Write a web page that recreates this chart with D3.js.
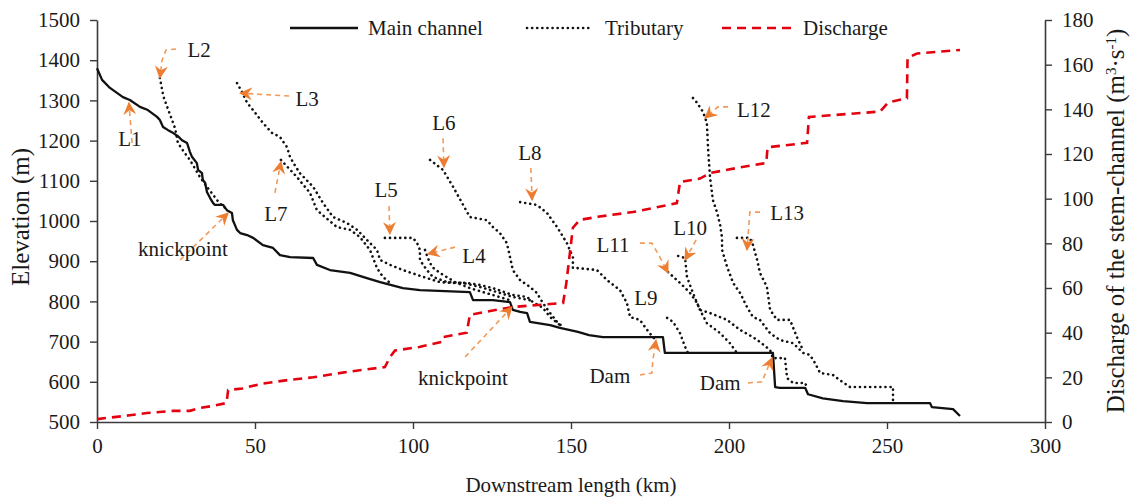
<!DOCTYPE html>
<html>
<head>
<meta charset="utf-8">
<script src="https://cdn.jsdelivr.net/npm/d3@7"></script>
<style>
  html, body { margin: 0; padding: 0; background: #fff; }
  svg { display: block; }
  text { font-family: "Liberation Serif", "Times New Roman", "DejaVu Serif", serif; fill: #1a1a1a; }
</style>
</head>
<body>
<svg id="chart" width="1131" height="498"></svg>
<script>
// ---- Data: longitudinal profile (km, elevation m) ----
const mainChannel = [
  [0,1380],[1.6,1351],[4.1,1331],[8.2,1308],[10.4,1301],[13.6,1284],[16.1,1276],[19,1259],
  [19.9,1251],[20.9,1234],[22.5,1226],[23.7,1221],[25.6,1211],[26.9,1201],[28.5,1194],[29.4,1172],
  [30.1,1159],[31.6,1144],[32,1127],[33.2,1119],[33.5,1102],[34.2,1095],[34.8,1072],[35.8,1057],
  [36.7,1045],[37.3,1040],[39.9,1040],[41.1,1027],[42.7,1020],[43,1002],[44.3,978],[45.3,970],
  [47.5,965],[49.4,958],[52.5,940],[55.7,933],[57.9,915],[61.1,910],[68.4,908],[69.6,891],
  [73.7,878],[80.1,871],[85.4,858],[89.6,848],[96.8,833],[102.2,828],[118,823],[119,803],
  [125.3,803],[130.7,798],[131.6,779],[133.9,774],[136.1,771],[137,749],[143.4,741],[146.5,734],
  [152.2,724],[155.7,716],[160.1,711],[179.1,711],[179.7,672],[213.9,672],[214.6,587],[216.1,585],
  [224.1,585],[225,569],[229.7,559],[236.1,552],[243.7,547],[263.6,547],[264.2,537],[270.9,532],
  [273.1,515]
];

// Tributaries (km, elevation m)
const tribL2 = [[19.9,1356],[21,1310],[22.2,1284],[24.7,1231],[25.6,1194],[27.5,1172],[29.4,1152],[32.6,1109],[34.8,1085],[38,1052],[39.9,1035],[41.5,1030]];
const tribL3 = [[44.3,1343],[45.9,1321],[47.5,1294],[49.4,1276],[52.5,1244],[55.4,1219],[57.9,1209],[60.1,1184],[61.1,1159],[62.5,1140],[64.2,1119],[68.4,1085],[71.5,1045],[74.7,1010],[79.1,995],[82.3,978],[85.4,953],[88.6,928],[89.6,903],[92.7,891],[96.8,878],[103.2,861],[108.5,848],[112.7,846],[117.1,846],[121.2,841],[125.3,833],[131.6,816],[136.1,811],[138,798],[141.1,784],[143.4,761],[146.5,741]];
const tribL7 = [[58.2,1152],[63.3,1109],[67.4,1070],[69.6,1027],[75.9,985],[80.1,978],[83.2,960],[86.4,928],[88.6,883],[90.5,861],[92.7,846]];
const tribL5 = [[91.1,958],[95.9,958],[100,958],[101.3,945],[102.2,928],[102.2,903],[103.2,891],[104.4,878],[106.3,861],[110.8,848],[115.8,846],[121.2,836],[127.5,821],[131.6,811],[137,803]];
const tribL4 = [[103.8,928],[104.7,908],[106,886],[108.5,871],[113.3,848],[118,833],[124.4,818],[130.7,803]];
const tribL6 = [[105.4,1152],[109.5,1127],[112.7,1085],[115.5,1045],[118,1010],[123.4,1002],[125.3,985],[127.5,970],[129.7,945],[130.7,910],[131.6,878],[133.9,853],[137,836],[139.2,821],[141.1,796],[143.4,771],[145.6,749],[147.5,736]];
const tribL8 = [[133.9,1047],[139.2,1040],[142.4,1020],[145.6,985],[148.7,945],[150.6,910],[150.6,883],[151.9,883],[158.2,878],[161.4,853],[165.5,828],[167.7,796],[168.7,761],[171.8,754],[174.1,729],[175.9,711],[177,704]];
const tribL9 = [[180.4,759],[182.3,749],[184.5,721],[186.1,687],[187,672]];
const tribL10 = [[183.9,913],[186.1,908],[186.7,861],[188.6,821],[190.8,779],[193,746],[197.2,721],[200.3,696],[202.5,672]];
const tribL11 = [[180.7,873],[184.5,846],[187.7,821],[189.9,796],[190.8,779],[194,771],[199.4,754],[203.5,729],[207.6,711],[209.8,699],[213,679],[213.9,659],[217.7,659],[218.4,609],[220.3,597],[224.1,597],[224.7,585]];
const tribL12 = [[188.6,1306],[189.9,1294],[191.8,1271],[193,1244],[193.4,1177],[194,1109],[194.9,1052],[196.2,1022],[197.2,990],[197.8,958],[197.8,928],[199.4,886],[201.3,846],[203.5,821],[205.7,786],[207.6,761],[209.8,754],[213,721],[216.1,704],[220.3,696],[222.5,679],[223.4,672],[225.6,667],[227.2,647],[228.8,622],[232.9,617],[235.1,604],[238.3,587],[251.9,587],[251.9,550]];
const tribL13 = [[202.5,958],[206.6,958],[207.6,940],[208.9,903],[209.8,871],[212,836],[213,779],[215.2,754],[219.3,754],[221.5,711],[223.4,679]];
const tributaries = [tribL2, tribL3, tribL7, tribL5, tribL4, tribL6, tribL8, tribL9, tribL10, tribL11, tribL12, tribL13];

// Discharge of the stem-channel (km, m3/s)
const discharge = [
  [0,1.3],[10.4,3],[15.8,4],[24,5],[29.4,5],[32.6,6.3],[35.8,7],[41,8.5],[41.5,14.3],[46,15],
  [51.6,17],[60.4,18.8],[68.4,20],[79,22.4],[91.1,24.6],[92.7,29],[94.3,32],[102,33.6],[109,35.8],
  [109.5,38],[117,40],[118,48],[124.4,49.7],[131.6,51.5],[147.5,53.3],[148.5,62],[150.6,87],
  [152.8,90.5],[159,92],[169.6,94],[183.5,98],[184.5,107.5],[190.8,109],[194,111.5],[203.5,114],
  [211.8,116],[212.2,123],[224.7,125],[225.3,136.6],[247.8,139],[250.3,143],[256.3,145],[256.5,163],
  [259.5,165],[273.1,166.6]
];

// Axis ticks
const xTicks = [0, 50, 100, 150, 200, 250, 300];
const elevTicks = [500, 600, 700, 800, 900, 1000, 1100, 1200, 1300, 1400, 1500];
const dischargeTicks = [0, 20, 40, 60, 80, 100, 120, 140, 160, 180];

// Annotations: label position and leader path (km, elevation), arrow at last point
const annotations = [
  { text: "L1", at: [10.4,1187], path: [[11.1,1194],[10.1,1294]] },
  { text: "L2", at: [32.3,1408], path: [[25,1428],[21.8,1425],[20.6,1400],[19.9,1356]] },
  { text: "L3", at: [66.5,1286], path: [[60.8,1311],[45.3,1318]] },
  { text: "L7", at: [56.6,1000], path: [[56.3,1070],[58.2,1147]] },
  { text: "knickpoint", at: [27.2,913], path: [[26.3,903],[41.5,1020]] },
  { text: "L5", at: [91.5,1060], path: [[92.4,1037],[92.7,968]] },
  { text: "L6", at: [109.8,1226], path: [[109.5,1206],[109.8,1134]] },
  { text: "L4", at: [119.3,896], path: [[113.3,935],[104.7,918]] },
  { text: "L8", at: [137,1152], path: [[137.3,1132],[137.7,1052]] },
  { text: "L9", at: [173.7,791], path: [] },
  { text: "L10", at: [187.7,965], path: [[189.6,953],[186.1,903]] },
  { text: "L11", at: [163.3,923], path: [[171.8,945],[175.6,945],[177.2,923],[179.1,896],[180.7,871]] },
  { text: "L12", at: [207.9,1259], path: [[199.7,1284],[196.5,1284],[192.4,1256]] },
  { text: "L13", at: [218.4,1002], path: [[209.8,1022],[206.6,1022],[205.7,928]] },
  { text: "knickpoint", at: [115.8,592], path: [[116.5,662],[131.3,786]] },
  { text: "Dam", at: [162.3,597], path: [[171.8,617],[175.6,622],[175.9,654],[176.9,704]] },
  { text: "Dam", at: [197.2,580], path: [[206,597],[210.4,600],[213.6,659]] }
];

// ---- Drawing ----
const svg = d3.select("#chart");
const W = 1131, H = 498;
const margin = { left: 97, right: W - 1045, top: 20, bottom: H - 422 };
const serif = "Liberation Serif, Times New Roman, serif";

const x = d3.scaleLinear().domain([0, 300]).range([margin.left, W - margin.right]);
const yElev = d3.scaleLinear().domain([500, 1500]).range([H - margin.bottom, margin.top]);
const yQ = d3.scaleLinear().domain([0, 180]).range([H - margin.bottom, margin.top]);

const axisColor = "#3a3a3a";
const fontSize = 21;
const titleSize = 25;
const fmt = d3.format("d");

// Axes
const gx = svg.append("g").attr("transform", `translate(0,${H - margin.bottom})`)
  .call(d3.axisBottom(x).tickValues(xTicks).tickFormat(fmt).tickSizeOuter(0).tickSizeInner(7).tickPadding(9));
const gyl = svg.append("g").attr("transform", `translate(${margin.left},0)`)
  .call(d3.axisLeft(yElev).tickValues(elevTicks).tickFormat(fmt).tickSizeOuter(0).tickSizeInner(7).tickPadding(10));
const gyr = svg.append("g").attr("transform", `translate(${W - margin.right},0)`)
  .call(d3.axisRight(yQ).tickValues(dischargeTicks).tickFormat(fmt).tickSizeOuter(0).tickSizeInner(7).tickPadding(10));

[gx, gyl, gyr].forEach(g => {
  g.attr("font-family", serif);
  g.selectAll(".domain").attr("stroke", axisColor).attr("stroke-width", 1.6);
  g.selectAll(".tick line").attr("stroke", axisColor).attr("stroke-width", 1.4);
  g.selectAll(".tick text").attr("font-size", fontSize).attr("fill", "#1a1a1a");
});

// Axis titles
svg.append("text")
  .attr("x", (x(0) + x(300)) / 2).attr("y", 492)
  .attr("text-anchor", "middle").attr("font-size", fontSize)
  .text("Downstream length (km)");

svg.append("text")
  .attr("transform", `translate(29,${(yElev(500) + yElev(1500)) / 2 - 4}) rotate(-90)`)
  .attr("text-anchor", "middle").attr("font-size", titleSize)
  .text("Elevation (m)");

const rt = svg.append("text")
  .attr("transform", `translate(1124,${(yQ(0) + yQ(180)) / 2}) rotate(-90)`)
  .attr("text-anchor", "middle").attr("font-size", titleSize);
rt.append("tspan").text("Discharge of the stem-channel (m");
rt.append("tspan").attr("baseline-shift", "super").attr("font-size", 15).text("3");
rt.append("tspan").text("·s");
rt.append("tspan").attr("baseline-shift", "super").attr("font-size", 15).text("-1");
rt.append("tspan").text(")");

// Lines
const lineElev = d3.line().x(d => x(d[0])).y(d => yElev(d[1]));
const lineQ = d3.line().x(d => x(d[0])).y(d => yQ(d[1]));

const tribStyle = sel => sel.attr("fill", "none").attr("stroke", "#111")
  .attr("stroke-width", 2.6).attr("stroke-linecap", "round").attr("stroke-dasharray", "0.1 5");

svg.append("g").selectAll("path").data(tributaries).join("path")
  .attr("d", lineElev).call(tribStyle);

svg.append("path").datum(mainChannel).attr("d", lineElev)
  .attr("fill", "none").attr("stroke", "#111").attr("stroke-width", 2.3).attr("stroke-linejoin", "round");

const qStyle = sel => sel.attr("fill", "none").attr("stroke", "#e3000f")
  .attr("stroke-width", 2.6).attr("stroke-dasharray", "9 6");
svg.append("path").datum(discharge).attr("d", lineQ).call(qStyle);

// Annotation arrows
const orange = "#ed7d31";
svg.append("defs").append("marker")
  .attr("id", "arrowHead").attr("viewBox", "0 0 12 12")
  .attr("refX", 11).attr("refY", 6).attr("markerWidth", 13).attr("markerHeight", 13)
  .attr("markerUnits", "userSpaceOnUse").attr("orient", "auto")
  .append("path").attr("d", "M0,0 L12,6 L0,12 L4,6 Z").attr("fill", orange);

const ann = svg.append("g");
ann.selectAll("path").data(annotations.filter(a => a.path.length)).join("path")
  .attr("d", d => lineElev(d.path))
  .attr("fill", "none").attr("stroke", "#f19a5a").attr("stroke-width", 1.6)
  .attr("stroke-dasharray", "5 4").attr("marker-end", "url(#arrowHead)");
ann.selectAll("text").data(annotations).join("text")
  .attr("x", d => x(d.at[0])).attr("y", d => yElev(d.at[1]))
  .attr("text-anchor", "middle").attr("font-size", fontSize)
  .text(d => d.text);

// Legend
const legend = svg.append("g");
const legendItems = [
  { name: "Main channel", x0: 290, x1: 358, tx: 368, style: s => s.attr("stroke", "#111").attr("stroke-width", 2.3) },
  { name: "Tributary", x0: 527, x1: 593, tx: 605, style: tribStyle },
  { name: "Discharge", x0: 722, x1: 792, tx: 803, style: qStyle }
];
legendItems.forEach(it => {
  legend.append("line").attr("x1", it.x0).attr("x2", it.x1).attr("y1", 28).attr("y2", 28).call(it.style);
  legend.append("text").attr("x", it.tx).attr("y", 35).attr("font-size", fontSize).text(it.name);
});
</script>
</body>
</html>
